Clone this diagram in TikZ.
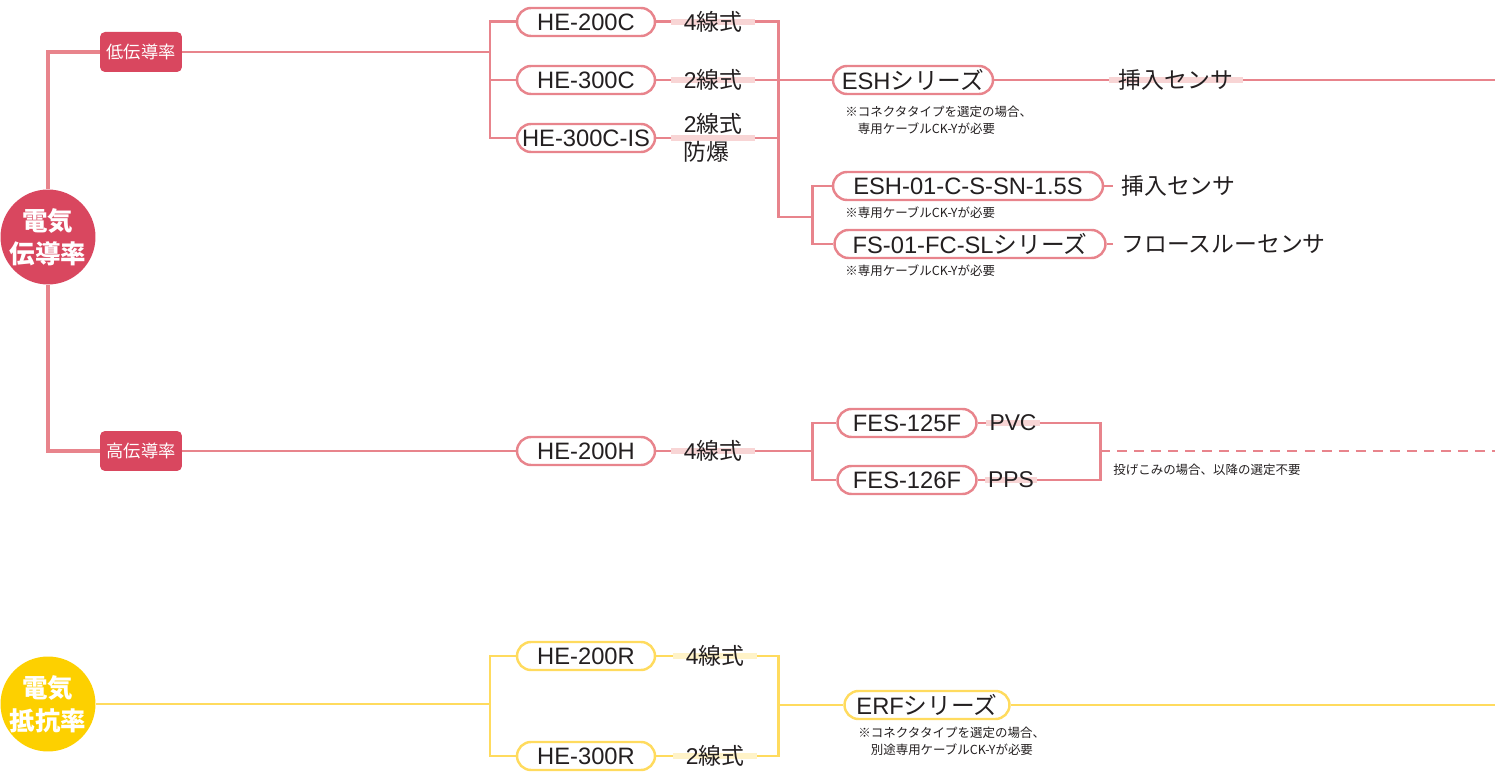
\documentclass[tikz,border=0pt]{standalone}
\usepackage{fontspec}
\setmainfont{Liberation Sans}
\newfontfamily\jp{Noto Sans CJK JP}
\usepackage{tikz}
\usetikzlibrary{positioning,backgrounds}
\definecolor{crimson}{HTML}{D9475F}
\definecolor{rosewire}{HTML}{E8848C}
\definecolor{roseband}{HTML}{F8D5D5}
\definecolor{sun}{HTML}{FDD000}
\definecolor{sunwire}{HTML}{FFDB5E}
\definecolor{sunband}{HTML}{FFF3C8}
\definecolor{ink}{HTML}{231F20}

\tikzset{
  hub/.style={circle, fill=#1, minimum size=1.8cm, inner sep=0pt, text=white,
    align=center, font=\jp\bfseries\fontsize{14.5}{18.5}\selectfont},
  grade/.style={fill=crimson, rounded corners=0.1cm, minimum width=1.64cm,
    minimum height=0.8cm, inner sep=0pt, text=white, font=\jp\fontsize{9.8}{12}\selectfont},
  pill/.style={draw=#1, line width=1.4pt, fill=white, rounded corners=0.28cm,
    minimum height=0.56cm, inner sep=0pt, text=ink, font=\fontsize{13.5}{16}\selectfont},
  wirelbl/.style={inner xsep=0.24cm, inner ysep=0pt, text=ink, font=\fontsize{13}{16}\selectfont},
  note/.style={inner sep=0pt, text=ink, align=left, font=\jp\fontsize{7.1}{9.6}\selectfont},
  trunk/.style={draw=rosewire, line width=2.3pt},
  rose/.style={draw=rosewire, line width=1.7pt},
  sunline/.style={draw=sunwire, line width=1.7pt},
  band/.style={draw=#1, line width=3.4pt},
}

\begin{document}
\begin{tikzpicture}[x=0.02cm, y=-0.02cm]
      \useasboundingbox (0,0) rectangle (1495,776);

      % --- electric conductivity (pink) ---
      \node[hub=crimson] (cond) at (48,237) {電気\\伝導率};
      \node[grade] (low) at (141,52) {低伝導率};
      \node[grade] (high) at (141,451) {高伝導率};

      % low conductivity
      \node[pill=rosewire, minimum width=2.76cm] (he200c) at (586,22) {HE-200C};
      \node[pill=rosewire, minimum width=2.76cm] (he300c) at (586,80) {HE-300C};
      \node[pill=rosewire, minimum width=2.76cm] (he300cis) at (586,138) {HE-300C-IS};
      \node[wirelbl] (w200c) at (713,22) {4{\jp 線式}};
      \node[wirelbl] (w300c) at (713,80) {2{\jp 線式}};
      \node[wirelbl, align=left] (w300cis) at (713,138) {2{\jp 線式}\\{\jp 防爆}};

      \node[pill=rosewire, minimum width=3.2cm] (esh) at (913,80) {ESH{\jp シリーズ}};
      \node[wirelbl, inner xsep=0.2cm] (ins1) at (1176,80) {\jp 挿入センサ};
      \node[note, anchor=west] (n1) at (845,120) {※コネクタタイプを選定の場合、\\\phantom{※}専用ケーブルCK-Yが必要};

      \node[pill=rosewire, minimum width=5.4cm] (esh01) at (968,186) {ESH-01-C-S-SN-1.5S};
      \node[wirelbl, inner xsep=0.16cm, anchor=west] (ins2) at (1113,186) {\jp 挿入センサ};
      \node[note, anchor=west] (n2) at (845,213) {※専用ケーブルCK-Yが必要};
      \node[pill=rosewire, minimum width=5.42cm] (fs01) at (970,244) {FS-01-FC-SL{\jp シリーズ}};
      \node[wirelbl, inner xsep=0.16cm, anchor=west] (flow) at (1113,244) {\jp フロースルーセンサ};
      \node[note, anchor=west] (n3) at (845,271) {※専用ケーブルCK-Yが必要};

      % high conductivity
      \node[pill=rosewire, minimum width=2.76cm] (he200h) at (586,451) {HE-200H};
      \node[wirelbl] (w200h) at (713,451) {4{\jp 線式}};
      \node[pill=rosewire, minimum width=2.78cm] (fes125) at (907,423) {FES-125F};
      \node[pill=rosewire, minimum width=2.78cm] (fes126) at (907,480) {FES-126F};
      \node[wirelbl, inner xsep=0.06cm] (pvc) at (1013,423) {PVC};
      \node[wirelbl, inner xsep=0.06cm] (pps) at (1011,480) {PPS};
      \node[note, anchor=west] (n4) at (1113,470) {投げこみの場合、以降の選定不要};

      % --- electric resistivity (yellow) ---
      \node[hub=sun] (res) at (48,704) {電気\\抵抗率};
      \node[pill=sunwire, minimum width=2.76cm] (he200r) at (586,656) {HE-200R};
      \node[pill=sunwire, minimum width=2.76cm] (he300r) at (586,756) {HE-300R};
      \node[wirelbl] (w200r) at (715,656) {4{\jp 線式}};
      \node[wirelbl] (w300r) at (715,756) {2{\jp 線式}};
      \node[pill=sunwire, minimum width=3.3cm] (erf) at (927,705) {ERF{\jp シリーズ}};
      \node[note, anchor=west] (n5) at (858,741) {※コネクタタイプを選定の場合、\\\phantom{※}別途専用ケーブルCK-Yが必要};

      % junctions
      \coordinate (lowfork) at (490,52);
      \coordinate (cjoin) at (778,217);
      \coordinate (cfork) at (812,217);
      \coordinate (hfork) at (812,451);
      \coordinate (hjoin) at (1100,451);
      \coordinate (rfork) at (490,704);
      \coordinate (rjoin) at (778,705);
      \coordinate (eshend) at (1495,80);
      \coordinate (hend) at (1495,451);
      \coordinate (erfend) at (1495,705);

      \begin{scope}[on background layer]
      % trunk
      \draw[trunk] (low.west) -| (cond.north);
      \draw[trunk] (high.west) -| (cond.south);

      % low branch
      \draw[rose] (low.east) -- (lowfork);
      \draw[rose] (he200c.west) -| (lowfork) |- (he300cis.west);
      \draw[rose] (lowfork |- he300c) -- (he300c.west);
      \draw[rose] (he200c.east) -- (w200c.west);
      \draw[rose] (he300c.east) -- (w300c.west);
      \draw[rose] (he300cis.east) -- (w300cis.west);
      \draw[band=roseband] (w200c.west) -- (w200c.east);
      \draw[band=roseband] (w300c.west) -- (w300c.east);
      \draw[band=roseband] (w300cis.west) -- (w300cis.east);
      \draw[rose] (w200c.east) -| (cjoin) -- (cfork);
      \draw[rose] (w300c.east) -- (esh.west);
      \draw[rose] (w300cis.east) -- (w300cis.east -| cjoin);
      \draw[rose] (esh.east) -- (ins1.west);
      \draw[band=roseband] (ins1.west) -- (ins1.east);
      \draw[rose] (ins1.east) -- (eshend);
      \draw[rose] (esh01.west) -| (cfork) |- (fs01.west);
      \draw[rose] (esh01.east) -- (ins2.west);
      \draw[rose] (fs01.east) -- (flow.west);

      % high branch
      \draw[rose] (high.east) -- (he200h.west);
      \draw[rose] (he200h.east) -- (w200h.west);
      \draw[band=roseband] (w200h.west) -- (w200h.east);
      \draw[rose] (w200h.east) -- (hfork);
      \draw[rose] (fes125.west) -| (hfork) |- (fes126.west);
      \draw[rose] (fes125.east) -- (pvc.west);
      \draw[rose] (fes126.east) -- (pps.west);
      \draw[band=roseband] (pvc.west) -- (pvc.east);
      \draw[band=roseband] (pps.west) -- (pps.east);
      \draw[rose] (pvc.east) -| (hjoin) |- (pps.east);
      \draw[rose, dash pattern=on 5.7pt off 4pt] (hjoin) -- (hend);

      % resistivity branch
      \draw[sunline] (res.east) -- (rfork);
      \draw[sunline] (he200r.west) -| (rfork) |- (he300r.west);
      \draw[sunline] (he200r.east) -- (w200r.west);
      \draw[sunline] (he300r.east) -- (w300r.west);
      \draw[band=sunband] (w200r.west) -- (w200r.east);
      \draw[band=sunband] (w300r.west) -- (w300r.east);
      \draw[sunline] (w200r.east) -| (rjoin) |- (w300r.east);
      \draw[sunline] (rjoin) -- (erf.west);
      \draw[sunline] (erf.east) -- (erfend);
      \end{scope}
    \end{tikzpicture}
\end{document}
